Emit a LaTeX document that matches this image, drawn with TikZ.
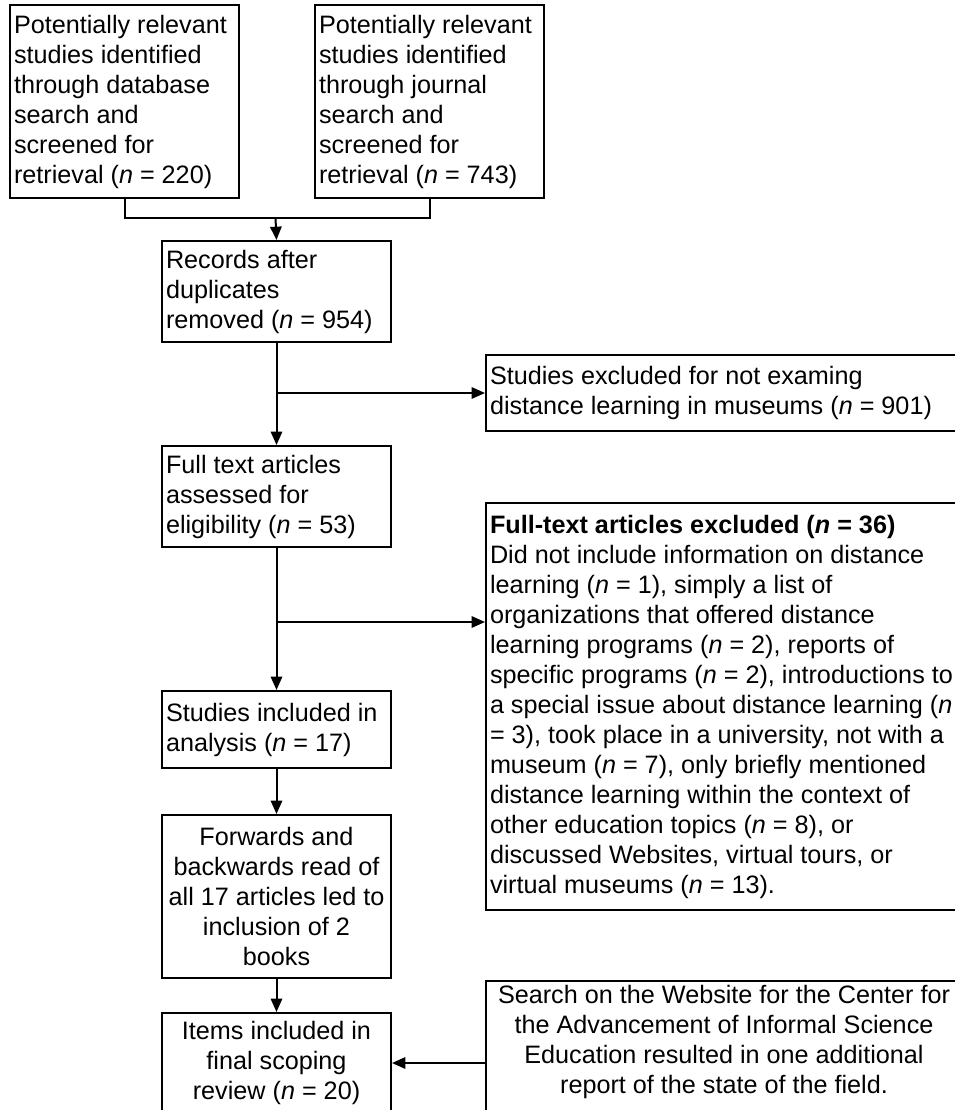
\documentclass[tikz,border=0pt]{standalone}
\usepackage{fontspec}
\setmainfont{Liberation Sans}
\usetikzlibrary{arrows.meta}

\begin{document}
\begin{tikzpicture}[x=0.75pt, y=-0.75pt]

\tikzstyle{box} = [draw, line width=1.5pt, anchor=north west, inner xsep=3pt, inner ysep=3pt, font=\fontsize{18.9}{22.5}\selectfont]
\tikzstyle{leftbox} = [box, text width=165.75pt, align=flush left]
\tikzstyle{midbox} = [box, text width=165.75pt, align=flush center]
\tikzstyle{widebox} = [box, text width=375pt, align=flush left]
\tikzstyle{line} = [line width=1.5pt]
\tikzstyle{arr} = [line width=1.5pt, -{Triangle[length=10pt, width=8.5pt]}]

\useasboundingbox (0,0) rectangle (955,1110);
\clip (0,0) rectangle (955,1110);

\node[leftbox, minimum height=144.75pt] (database) at (9,4) {Potentially relevant\\studies identified\\through database\\search and\\screened for\\retrieval (\textit{n} = 220)};
\node[leftbox, minimum height=144.75pt] (journal) at (314,4) {Potentially relevant\\studies identified\\through journal\\search and\\screened for\\retrieval (\textit{n} = 743)};

\node[leftbox, minimum height=75.75pt] (records) at (161,240) {Records after\\duplicates\\removed (\textit{n} = 954)};
\node[widebox, minimum height=57pt] (notmuseum) at (485,354) {Studies excluded for not examing\\distance learning in museums (\textit{n} = 901)};

\node[leftbox, minimum height=75.75pt] (fulltext) at (161,445) {Full text articles\\assessed for\\eligibility (\textit{n} = 53)};
\node[widebox, minimum height=305.25pt] (excluded) at (485,502) {\textbf{Full-text articles excluded (\textit{n} = 36)}\\Did not include information on distance\\learning (\textit{n} = 1), simply a list of\\organizations that offered distance\\learning programs (\textit{n} = 2), reports of\\specific programs (\textit{n} = 2), introductions to\\a special issue about distance learning (\textit{n}\\= 3), took place in a university, not with a\\museum (\textit{n} = 7), only briefly mentioned\\distance learning within the context of\\other education topics (\textit{n} = 8), or\\discussed Websites, virtual tours, or\\virtual museums (\textit{n} = 13).};

\node[leftbox, minimum height=57.75pt] (analysis) at (161,690) {Studies included in\\analysis (\textit{n} = 17)};
\node[midbox, minimum height=122.25pt] (forwards) at (161,814) {Forwards and\\backwards read of\\all 17 articles led to\\inclusion of 2\\books};
\node[midbox, minimum height=75pt] (items) at (161,1012) {Items included in\\final scoping\\review (\textit{n} = 20)};
\node[box, text width=351pt, align=flush center, text depth=83pt] (website) at (485,980) {Search on the Website for the Center for\\the Advancement of Informal Science\\Education resulted in one additional\\report of the state of the field.};

\coordinate (merge) at (275.5,218);
\coordinate (split) at (275.5,622);

\draw[line] (database.south) |- (merge) -| (journal.south);
\draw[arr] (merge) -- (records.north);
\draw[arr] (records.south) -- (fulltext.north);
\draw[arr] (records.south |- notmuseum.west) -- (notmuseum.west);
\draw[arr] (fulltext.south) -- (analysis.north);
\draw[arr] (split) -- (split -| excluded.west);
\draw[arr] (analysis.south) -- (forwards.north);
\draw[arr] (forwards.south) -- (items.north);
\draw[arr] (website.west |- items.east) -- (items.east);

\end{tikzpicture}
\end{document}
